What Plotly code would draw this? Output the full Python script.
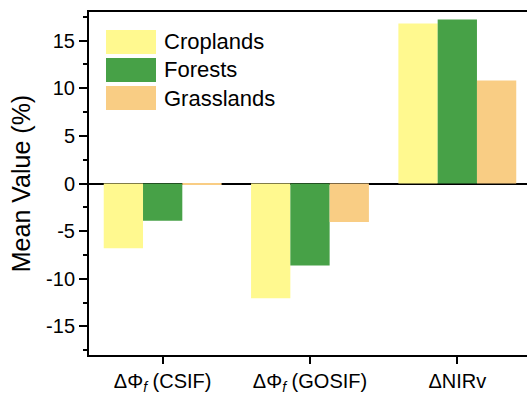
import plotly.graph_objects as go

categories = ["ΔΦ<sub><i>f</i></sub> (CSIF)", "ΔΦ<sub><i>f</i></sub> (GOSIF)", "ΔNIRv"]
croplands = [-6.8, -12.05, 16.8]
forests = [-3.9, -8.6, 17.2]
grasslands = [-0.15, -4.05, 10.8]
series_names = ["Croplands", "Forests", "Grasslands"]
colors = ["#FFF98F", "#47A147", "#F9CD84"]
ytick_vals = [-15, -10, -5, 0, 5, 10, 15]
ytick_text = ["-15", "-10", "-5", "0", "5", "10", "15"]

FONT = "Liberation Sans, Arial, sans-serif"

fig = go.Figure()
for name, vals, col in zip(series_names, [croplands, forests, grasslands], colors):
    fig.add_trace(go.Bar(x=categories, y=vals, name=name, marker=dict(color=col, line=dict(width=0)),
                         showlegend=False))

# custom legend (large swatches like the reference)
leg_y = [42, 70, 98]
for name, col, yc in zip(series_names, colors, leg_y):
    y0 = 1 - (yc - 12 - 12) / 343
    y1 = 1 - (yc + 12 - 12) / 343
    fig.add_shape(type="rect", xref="paper", yref="paper", x0=17 / 438, x1=67 / 438,
                  y0=y1, y1=y0, fillcolor=col, line=dict(width=0))
    fig.add_annotation(xref="paper", yref="paper", x=73 / 438, y=1 - (yc - 12) / 343,
                       text=name, showarrow=False, xanchor="left", yanchor="middle",
                       font=dict(family=FONT, size=22, color="black"))

fig.update_layout(
    width=527, height=394,
    margin=dict(l=89, r=0, t=12, b=39),
    paper_bgcolor="white", plot_bgcolor="white",
    barmode="group", bargap=0.2, bargroupgap=0,
    font=dict(family=FONT, size=20, color="black"),
    xaxis=dict(range=[-0.5, 2.473], showline=True, linecolor="black", linewidth=2, mirror=True,
               ticks="outside", ticklen=7, tickwidth=2, tickcolor="black", automargin=False,
               tickfont=dict(family=FONT, size=20), showgrid=False),
    yaxis=dict(range=[-18, 18], tickvals=ytick_vals, ticktext=ytick_text, showline=True,
               linecolor="black", linewidth=2, mirror=False, automargin=False,
               ticks="outside", ticklen=8, tickwidth=2, tickcolor="black",
               minor=dict(dtick=2.5, ticks="outside", ticklen=4, tickwidth=2, tickcolor="black", showgrid=False),
               showgrid=False, zeroline=True, zerolinecolor="black", zerolinewidth=2,
               tickfont=dict(family=FONT, size=20),
               title=dict(text="Mean Value (%)", font=dict(family=FONT, size=25), standoff=8)),
)

fig.write_html("out.html", config={"displayModeBar": False},
               post_script="document.body.style.margin='0';document.body.style.overflow='hidden';"
                           "document.documentElement.style.overflow='hidden';")
